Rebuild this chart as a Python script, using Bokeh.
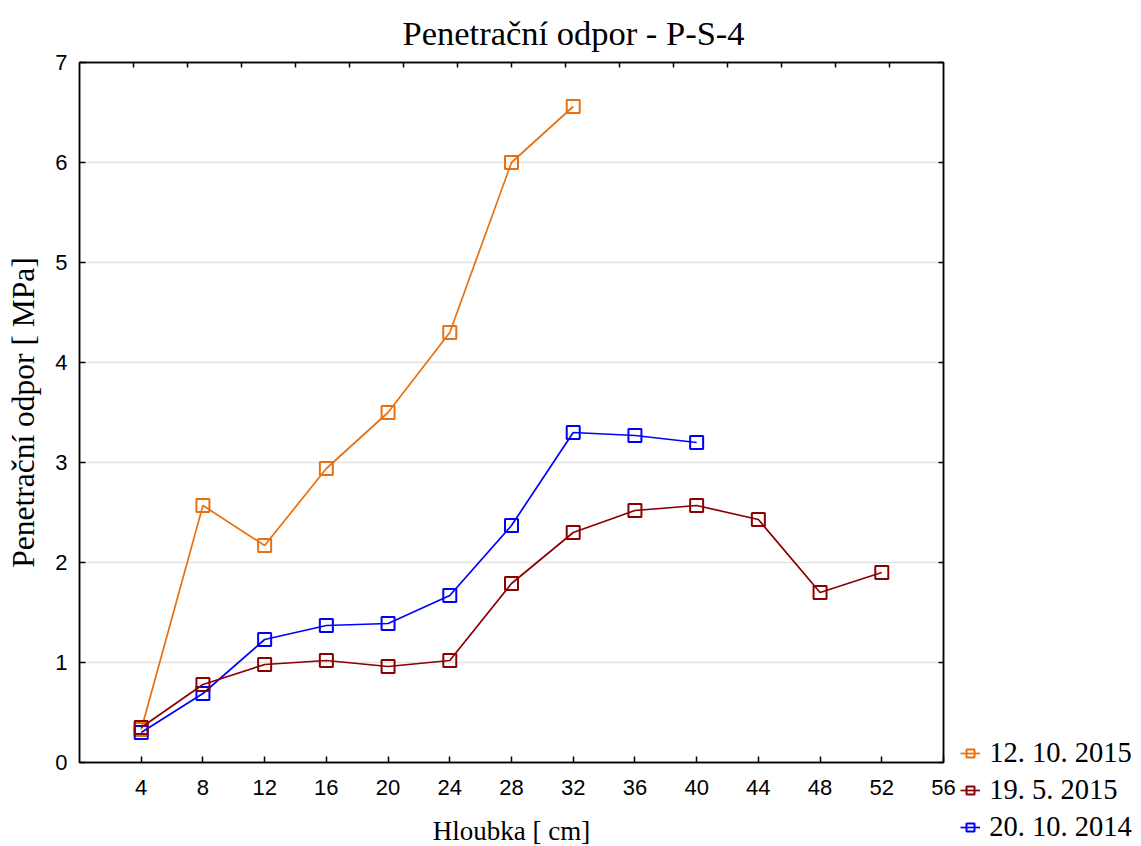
from bokeh.plotting import figure
from bokeh.models import (Range1d, LinearAxis, FixedTicker, Legend, LegendItem,
                          ColumnDataSource)
from bokeh.embed import file_html
from bokeh.resources import INLINE

# ---- data ----
depth_2015_10 = [4, 8, 12, 16, 20, 24, 28, 32]
vals_2015_10 = [0.33, 2.57, 2.17, 2.94, 3.50, 4.30, 6.00, 6.56]

depth_2015_05 = [4, 8, 12, 16, 20, 24, 28, 32, 36, 40, 44, 48, 52]
vals_2015_05 = [0.35, 0.78, 0.98, 1.02, 0.96, 1.02, 1.79, 2.30, 2.52, 2.57, 2.43, 1.70, 1.90]

depth_2014_10 = [4, 8, 12, 16, 20, 24, 28, 32, 36, 40]
vals_2014_10 = [0.30, 0.69, 1.23, 1.37, 1.39, 1.67, 2.37, 3.30, 3.27, 3.20]

labels = ["12. 10. 2015", "19. 5. 2015", "20. 10. 2014"]
colors = ["#E8700F", "#8B0000", "#0000FF"]

x_ticks = [4, 8, 12, 16, 20, 24, 28, 32, 36, 40, 44, 48, 52, 56]
y_ticks = [0, 1, 2, 3, 4, 5, 6, 7]
top_ticks = [3.5 * i for i in range(1, 16)]

title_text = "Penetrační odpor - P-S-4"
x_label = "Hloubka [ cm]"
y_label = "Penetrační odpor [ MPa]"

SERIF = "Liberation Serif"
SANS = "Liberation Sans"

p = figure(frame_width=864, frame_height=700,
           min_border_left=79, min_border_right=198, min_border_top=62,
           min_border_bottom=10,
           x_range=Range1d(0, 56), y_range=Range1d(0, 7),
           output_backend="svg", toolbar_location=None,
           title=title_text, background_fill_color="white",
           border_fill_color="white")

p.title.align = "left"
p.title.offset = 323
p.title.text_font = SERIF
p.title.text_font_size = "34.5px"
p.title.text_font_style = "normal"
p.title.text_color = "black"
p.title.standoff = 21

p.outline_line_color = "black"
p.outline_line_width = 1.5

# grid
p.xgrid.grid_line_color = None
p.ygrid.grid_line_color = "#e2e2e2"
p.ygrid.grid_line_width = 1.5
p.ygrid.ticker = FixedTicker(ticks=y_ticks)

# bottom axis
xa = p.xaxis[0]
xa.ticker = FixedTicker(ticks=x_ticks)
xa.axis_label = x_label
xa.axis_label_text_font = SERIF
xa.axis_label_text_font_size = "27px"
xa.axis_label_text_font_style = "normal"
xa.axis_label_text_color = "black"
xa.axis_label_standoff = 18
xa.major_label_text_font = SANS
xa.major_label_text_font_size = "22px"
xa.major_label_text_color = "black"
xa.major_label_standoff = 17
xa.major_tick_in = 6
xa.major_tick_out = 0
xa.minor_tick_line_color = None
xa.axis_line_width = 1.5
xa.major_tick_line_width = 1.5

# left axis
ya = p.yaxis[0]
ya.ticker = FixedTicker(ticks=y_ticks)
ya.axis_label = y_label
ya.axis_label_text_font = SERIF
ya.axis_label_text_font_size = "31.5px"
ya.axis_label_text_font_style = "normal"
ya.axis_label_text_color = "black"
ya.axis_label_standoff = 11
ya.major_label_text_font = SANS
ya.major_label_text_font_size = "22px"
ya.major_label_text_color = "black"
ya.major_label_standoff = 12
ya.major_tick_in = 6
ya.major_tick_out = 0
ya.minor_tick_line_color = None
ya.axis_line_width = 1.5
ya.major_tick_line_width = 1.5

# top axis (ticks only)
ta = LinearAxis(ticker=FixedTicker(ticks=top_ticks), major_label_text_font_size="0px",
                major_label_text_color=None, major_tick_in=5, major_tick_out=0,
                minor_tick_line_color=None, axis_line_width=1.5,
                major_tick_line_width=1.5, major_label_standoff=0)
p.add_layout(ta, "above")

# right axis (ticks only)
ra = LinearAxis(ticker=FixedTicker(ticks=y_ticks), major_label_text_font_size="0px",
                major_label_text_color=None, major_tick_in=5, major_tick_out=0,
                minor_tick_line_color=None, axis_line_width=1.5,
                major_tick_line_width=1.5, major_label_standoff=0)
p.add_layout(ra, "right")

series = [
    (depth_2015_10, vals_2015_10),
    (depth_2015_05, vals_2015_05),
    (depth_2014_10, vals_2014_10),
]

renderers = {}
for idx in [0, 2, 1]:
    xs, ys = series[idx]
    src = ColumnDataSource(dict(x=xs, y=ys))
    ln = p.line("x", "y", source=src, line_color=colors[idx], line_width=1.7)
    mk = p.scatter("x", "y", source=src, marker="square", size=13,
                   fill_color=None, line_color=colors[idx], line_width=2)
    renderers[idx] = [ln, mk]

legend = Legend(items=[LegendItem(label=labels[i], renderers=renderers[i]) for i in range(3)],
                location=(-223, -82), orientation="vertical",
                label_text_font=SERIF, label_text_font_size="28.5px",
                label_text_color="black", glyph_width=20, glyph_height=20,
                label_height=34, spacing=3, padding=0, margin=0,
                label_standoff=9, border_line_color=None,
                background_fill_alpha=0)
p.add_layout(legend, "right")

open("out.html", "w").write(file_html(p, INLINE))
